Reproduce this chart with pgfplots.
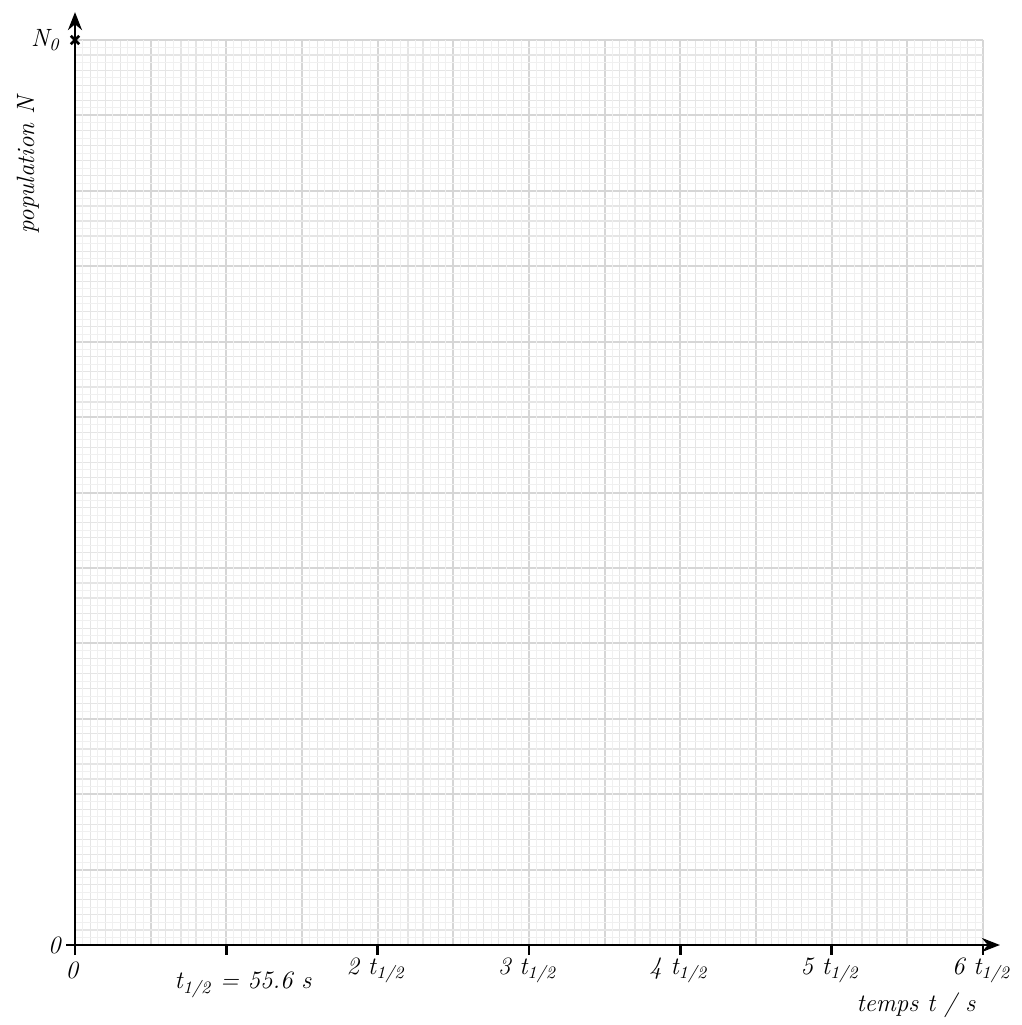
\documentclass[border=0pt]{standalone}
\usepackage{pgfplots}
\pgfplotsset{compat=1.18}
\usetikzlibrary{arrows.meta}
\begin{document}
\begin{tikzpicture}[font=\fontsize{12.5}{14}\selectfont\itshape]
\begin{axis}[
  at={(0,0)}, anchor=origin,
  width=454pt, height=452.5pt, scale only axis,
  xmin=0, xmax=6, ymin=0, ymax=12,
  axis line style={draw=none},
  xtick distance=0.5, ytick distance=1,
  minor x tick num=4, minor y tick num=4,
  xticklabels={}, yticklabels={},
  major tick length=0pt, minor tick length=0pt,
  grid=both,
  major grid style={draw=black!16, line width=1pt},
  minor grid style={draw=black!10, line width=0.6pt},
  extra x ticks={0.05,0.15,...,5.96}, extra y ticks={0.1,0.3,...,11.95},
  extra tick style={xticklabels={}, yticklabels={}, major grid style={draw=black!6, line width=0.5pt}},
  clip=false,
]
\addplot[only marks, mark=x, mark size=3pt, line width=1.3pt, black] coordinates {(0,12)};
\draw[line width=1.2pt, -{Stealth[length=9pt,width=7pt]}] (axis cs:0,0) -- (axis cs:6.112,0);
\draw[line width=1.2pt, -{Stealth[length=9pt,width=7pt]}] (axis cs:0,-0.133) -- (axis cs:0,12.37);
\pgfplotsinvokeforeach{1,...,6}{\draw[line width=1.2pt] (axis cs:#1,0) -- ++(0,-5pt);}
\draw[line width=1.2pt] (axis cs:0,0) -- ++(-4.5pt,0);
\pgfplotsinvokeforeach{2,...,6}{\node[anchor=north, inner sep=0pt] at ([xshift=-1pt,yshift=-6pt]axis cs:#1,0) {#1 t\textsubscript{1/2}};}
\node[anchor=north, inner sep=0pt] at ([xshift=-1.5pt,yshift=-8pt]axis cs:0,0) {0};
\node[anchor=east, inner sep=0pt] at ([xshift=-7pt]axis cs:0,0) {0};
\node[anchor=east, inner sep=0pt] at ([xshift=-7.5pt]axis cs:0,12) {N\textsubscript{0}};
\node[inner sep=0pt] at ([xshift=84pt,yshift=-20pt]axis cs:0,0) {t\textsubscript{1/2} = 55.6 s};
\node[inner sep=0pt] at ([xshift=420.5pt,yshift=-30pt]axis cs:0,0) {temps t / s};
\node[inner sep=0pt, rotate=90] at ([xshift=-23.5pt,yshift=390pt]axis cs:0,0) {population N};
\end{axis}
\pgfresetboundingbox
\path[use as bounding box] (-37.5pt,-40pt) rectangle (473.5pt,472.5pt);
\end{tikzpicture}
\end{document}
